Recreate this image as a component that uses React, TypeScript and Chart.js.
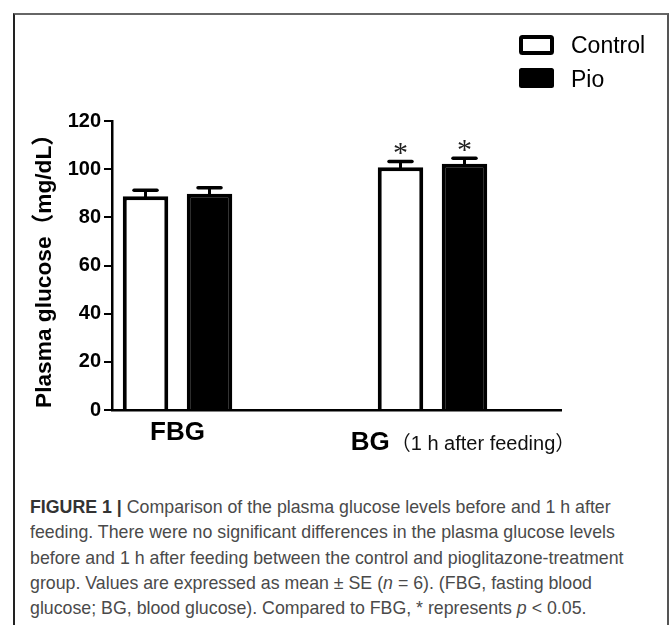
import React, { useEffect, useRef } from "react";
import { Chart, registerables } from "chart.js";

Chart.register(...registerables);

// ---------- data ----------
const categories = ["FBG", "BG"];
const categorySuffix = ["", "（1 h after feeding）"];
const seriesNames = ["Control", "Pio"];
const controlMean = [88.8, 100.8];
const controlSE = [2.4, 2.4];
const pioMean = [89.8, 102.2];
const pioSE = [2.5, 2.3];
const controlMarks = ["", "*"];
const pioMarks = ["", "*"];
const yTicks = [0, 20, 40, 60, 80, 100, 120];
const yTitle = "Plasma glucose（mg/dL）";

const SANS = "'Liberation Sans', Arial, 'Noto Sans CJK SC', sans-serif";

export default function App() {
  const ref = useRef<HTMLCanvasElement>(null);

  useEffect(() => {
    const canvas = ref.current;
    if (!canvas) return;

    const series = [
      { mean: controlMean, se: controlSE, marks: controlMarks },
      { mean: pioMean, se: pioSE, marks: pioMarks },
    ];

    const overlay = {
      id: "overlay",
      afterDatasetsDraw(chart: any) {
        const ctx = chart.ctx;
        const ys = chart.scales.y;
        series.forEach((s, di) => {
          const meta = chart.getDatasetMeta(di);
          meta.data.forEach((bar: any, i: number) => {
            const cx = bar.x;
            const top = ys.getPixelForValue(s.mean[i]);
            const et = ys.getPixelForValue(s.mean[i] + s.se[i]);
            ctx.save();
            ctx.strokeStyle = "#000";
            ctx.lineWidth = 3;
            ctx.beginPath();
            ctx.moveTo(cx, top + 2);
            ctx.lineTo(cx, et);
            ctx.stroke();
            ctx.lineWidth = 3.5;
            ctx.lineCap = "round";
            ctx.beginPath();
            ctx.moveTo(cx - 11.5, et);
            ctx.lineTo(cx + 11.5, et);
            ctx.stroke();
            if (s.marks[i]) {
              ctx.font = "30px 'Liberation Serif', 'DejaVu Serif', serif";
              ctx.fillStyle = "#222";
              ctx.textAlign = "center";
              ctx.textBaseline = "alphabetic";
              ctx.fillText(s.marks[i], cx, et + 1);
            }
            ctx.restore();
          });
        });
      },
      afterDraw(chart: any) {
        const ctx = chart.ctx;
        const xs = chart.scales.x;
        const axisY = chart.chartArea.bottom;
        const labelShift = [0, 30];
        const labelDrop = [30, 40];
        ctx.save();
        ctx.fillStyle = "#000";
        ctx.textBaseline = "alphabetic";
        ctx.textAlign = "left";
        categories.forEach((cat, i) => {
          const px = xs.getPixelForValue(i);
          ctx.font = `bold 26px ${SANS}`;
          const wMain = ctx.measureText(cat).width;
          ctx.font = `20px ${SANS}`;
          const wSuf = categorySuffix[i] ? ctx.measureText(categorySuffix[i]).width : 0;
          const start = px + labelShift[i] - (wMain + wSuf) / 2;
          const by = axisY + labelDrop[i];
          ctx.font = `bold 26px ${SANS}`;
          ctx.fillText(cat, start, by);
          if (categorySuffix[i]) {
            ctx.font = `20px ${SANS}`;
            ctx.fillStyle = "#111";
            ctx.fillText(categorySuffix[i], start + wMain + 1, by);
            ctx.fillStyle = "#000";
          }
        });

        // legend (top-right)
        const boxX = 519;
        const boxW = 35;
        const boxH = 20;
        const rowTop = [35, 68];
        const rowBase = [53, 87];
        chart.data.datasets.forEach((ds: any, i: number) => {
          ctx.beginPath();
          if (ds.backgroundColor === "#ffffff") {
            ctx.lineWidth = 4;
            ctx.strokeStyle = "#000";
            ctx.fillStyle = "#fff";
            ctx.roundRect(boxX + 2, rowTop[i] + 2, boxW - 4, boxH - 4, 1.5);
            ctx.fill();
            ctx.stroke();
          } else {
            ctx.fillStyle = "#000";
            ctx.roundRect(boxX, rowTop[i], boxW, boxH, 2.5);
            ctx.fill();
          }
          ctx.fillStyle = "#000";
          ctx.font = `23px ${SANS}`;
          ctx.textAlign = "left";
          ctx.fillText(ds.label, 571, rowBase[i]);
        });
        ctx.restore();
      },
    };

    const chart = new Chart(canvas, {
      type: "bar",
      data: {
        datasets: [
          {
            label: seriesNames[0],
            data: controlMean.map((v, i) => ({ x: i, y: v })),
            backgroundColor: "#ffffff",
            borderColor: "#000000",
            borderWidth: 4,
          },
          {
            label: seriesNames[1],
            data: pioMean.map((v, i) => ({ x: i, y: v })),
            backgroundColor: "#000000",
            borderColor: "#000000",
            borderWidth: 4,
          },
        ],
      },
      options: {
        responsive: false,
        animation: false,
        layout: { padding: { left: 0, right: 111, top: 121, bottom: 60 } },
        datasets: { bar: { categoryPercentage: 0.502, barPercentage: 0.711 } } as any,
        plugins: {
          legend: { display: false },
          tooltip: { enabled: false },
          title: { display: false },
        },
        scales: {
          x: {
            type: "linear",
            offset: false,
            min: -0.257,
            max: 1.504,
            afterBuildTicks: (s: any) => {
              s.ticks = categories.map((_, i) => ({ value: i }));
            },
            afterFit: (s: any) => {
              s.height = 0;
            },
            ticks: { display: false },
            grid: { display: false, offset: false },
            border: { display: true, color: "#000", width: 2.5 },
          },
          y: {
            min: 0,
            max: 120,
            afterBuildTicks: (s: any) => {
              s.ticks = yTicks.map((v) => ({ value: v }));
            },
            afterFit: (s: any) => {
              s.width = 112;
            },
            ticks: {
              color: "#000",
              padding: 3,
              font: { family: SANS, size: 20, weight: "bold" },
            },
            grid: {
              drawOnChartArea: false,
              drawTicks: true,
              tickLength: 8,
              color: "#000",
              lineWidth: 2,
            },
            border: { display: true, color: "#000", width: 2.5 },
            title: {
              display: true,
              text: yTitle,
              color: "#000",
              font: { family: SANS, size: 22.7, weight: "bold" },
              padding: { top: 31, bottom: 0 },
            },
          },
        },
      },
      plugins: [overlay],
    } as any);

    return () => chart.destroy();
  }, []);

  const capStyle: React.CSSProperties = {
    position: "absolute",
    left: 30,
    top: 494,
    fontFamily: "'Liberation Sans', Arial, sans-serif",
    fontSize: 19,
    lineHeight: "25.3px",
    color: "#4a4a4a",
    whiteSpace: "nowrap",
    transform: "scaleX(0.935)",
    transformOrigin: "0 0",
  };

  return (
    <div style={{ position: "absolute", left: 0, top: 0, width: 672, height: 625, background: "#fff", overflow: "hidden" }}>
      <div
        style={{
          position: "absolute",
          left: 13,
          top: 13,
          width: 652,
          height: 700,
          borderTop: "2px solid #666",
          borderLeft: "2px solid #222",
          borderRight: "2px solid #555",
        }}
      />
      <canvas ref={ref} width={672} height={470} style={{ position: "absolute", left: 0, top: 0 }} />
      <div style={capStyle}>
        <div>
          <b style={{ color: "#333" }}>FIGURE 1 |</b> Comparison of the plasma glucose levels before and 1 h after
        </div>
        <div>feeding. There were no significant differences in the plasma glucose levels</div>
        <div>before and 1 h after feeding between the control and pioglitazone-treatment</div>
        <div>
          group. Values are expressed as mean ± SE (<i>n</i> = 6). (FBG, fasting blood
        </div>
        <div>
          glucose; BG, blood glucose). Compared to FBG, * represents <i>p</i> &lt; 0.05.
        </div>
      </div>
    </div>
  );
}
